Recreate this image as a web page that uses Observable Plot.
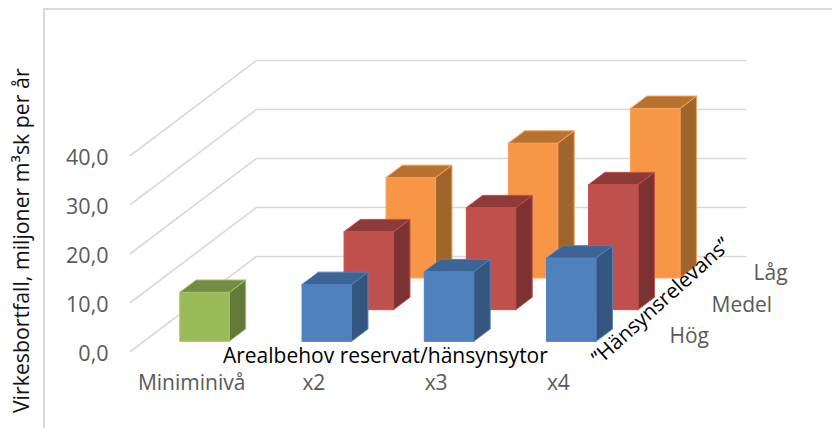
<!DOCTYPE html>
<html lang="sv">
<head>
<meta charset="utf-8">
<script src="https://cdn.jsdelivr.net/npm/d3@7"></script>
<script src="https://cdn.jsdelivr.net/npm/@observablehq/plot@0.6"></script>
<style>
  html, body { margin: 0; padding: 0; background: #fff; }
  #chart { position: relative; width: 832px; height: 428px; overflow: hidden; }
  #chart svg { display: block; }
  #frame { position: absolute; left: 43px; top: 8px; right: -4px; bottom: -4px;
           border-left: 2px solid #d9d9d9; border-top: 2px solid #d9d9d9; pointer-events: none; }
</style>
</head>
<body>
<div id="chart"><div id="frame"></div></div>
<script>
// Virkesbortfall per arealbehov och hänsynsrelevans
const categories = ["Miniminivå", "x2", "x3", "x4"];
const depthLabels = ["Hög", "Medel", "Låg"];
const yTicks = [0, 10, 20, 30, 40];

const minimum = [10.0, null, null, null];
const hog = [null, 11.6, 14.2, 17.0];
const medel = [null, 15.9, 20.8, 25.5];
const lag = [null, 20.5, 27.5, 34.6];

const palette = {
  green:  {front: "#9bbb59", top: "#748c43", side: "#647a3a", edge: "#a4c464"},
  blue:   {front: "#4f81bd", top: "#3c6494", side: "#34567e", edge: "#4f81bd"},
  red:    {front: "#c0504d", top: "#8e3a38", side: "#7c3231", edge: "#c0504d"},
  orange: {front: "#f79646", top: "#b8722f", side: "#a0652a", edge: "#f9a05a"}
};

// Oblique projection: depth d (0..1) shifts a point right and up in axis units.
const depthX = 1.031;
const depthY = 19.4;
const px = (c, d) => c + d * depthX;
const py = (v, d) => v + d * depthY;

const barWidth = 0.405;
const barDepth = 0.13;
const barCentre = 0.505;

// Three rows stand on the floor; the furthest one is painted first.
const rowsBackToFront = [
  {d: 5 / 6, values: lag, color: palette.orange},
  {d: 3 / 6, values: medel, color: palette.red},
  {d: 1 / 6, values: hog, color: palette.blue},
  {d: 1 / 6, values: minimum, color: palette.green}
];

const wall = yTicks.flatMap((v) => [
  {v, x: px(0, 0), y: py(v, 0)},
  {v, x: px(0, 1), y: py(v, 1)},
  {v, x: px(4, 1), y: py(v, 1)}
]);

function barMarks({d, values, color}) {
  const d0 = d - barDepth / 2;
  const d1 = d + barDepth / 2;
  return values.flatMap((v, i) => {
    if (v == null) return [];
    const c0 = i + barCentre - barWidth / 2;
    const c1 = i + barCentre + barWidth / 2;
    const style = {stroke: color.edge, strokeWidth: 1};
    const side = [
      {x: px(c1, d0), y1: py(0, d0), y2: py(v, d0)},
      {x: px(c1, d1), y1: py(0, d1), y2: py(v, d1)}
    ];
    const top = [
      {y: py(v, d0), x1: px(c0, d0), x2: px(c1, d0)},
      {y: py(v, d1), x1: px(c0, d1), x2: px(c1, d1)}
    ];
    return [
      Plot.areaY(side, {x: "x", y1: "y1", y2: "y2", fill: color.side, ...style}),
      Plot.areaX(top, {y: "y", x1: "x1", x2: "x2", fill: color.top, ...style}),
      Plot.rect([{v}], {
        x1: px(c0, d0), x2: px(c1, d0),
        y1: py(0, d0), y2: py(v, d0),
        fill: color.front, ...style
      })
    ];
  });
}

const font = "'Open Sans', sans-serif";
const grey = "#595959";

const chart = Plot.plot({
  width: 832,
  height: 428,
  margin: 0,
  x: {domain: [0, 4], range: [130, 619], axis: null},
  y: {domain: [0, 40], range: [351, 155], axis: null},
  style: {fontFamily: font, background: "transparent"},
  marks: [
    Plot.line(wall, {x: "x", y: "y", z: "v", stroke: "#d9d9d9", strokeWidth: 1.6}),
    ...rowsBackToFront.flatMap(barMarks),
    Plot.text(yTicks, {
      x: -0.18, y: (v) => v, text: (v) => v.toFixed(1).replace(".", ","),
      textAnchor: "end", fontSize: 21.5, dy: 3, fill: grey
    }),
    Plot.text(categories, {
      x: (_, i) => i + 0.5, y: -6.5, text: (c) => c,
      fontSize: 21, fill: grey
    }),
    Plot.text(depthLabels, {
      x: (_, i) => px(4.237, (2 * i + 1) / 6), y: (_, i) => py(0, (2 * i + 1) / 6),
      text: (t) => t, textAnchor: "start", fontSize: 21, dy: 1, fill: grey
    }),
    Plot.text(["Virkesbortfall, miljoner m³sk per år"], {
      x: -0.883, y: 22.6, text: (t) => t, rotate: -90, fontSize: 21.3, fill: "#111"
    }),
    Plot.text(["Arealbehov reservat/hänsynsytor"], {
      x: 2.085, y: -1.0, text: (t) => t, fontSize: 21, fill: "#000"
    }),
    Plot.text(["”Hänsynsrelevans”"], {
      x: 4.34, y: 10.2, text: (t) => t, rotate: -42, fontSize: 20.7, fill: "#000"
    })
  ]
});

document.getElementById("chart").prepend(chart);
</script>
</body>
</html>
